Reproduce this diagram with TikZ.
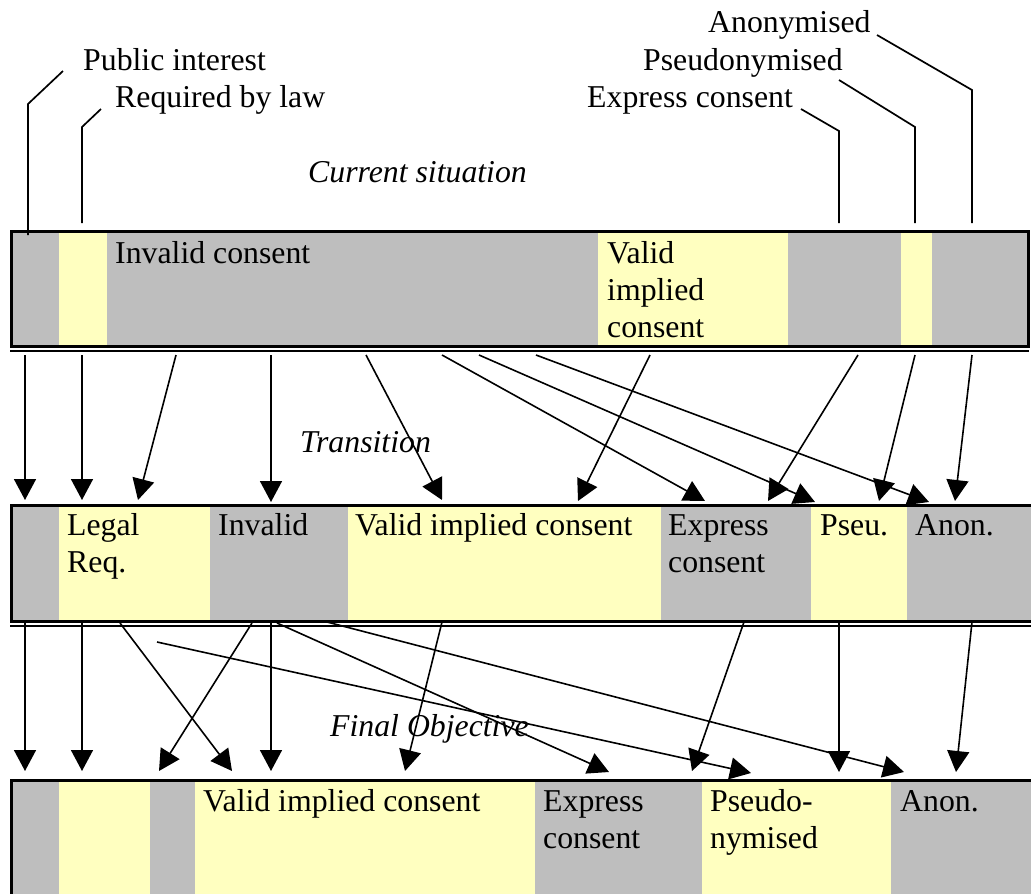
\documentclass[tikz,border=0pt]{standalone}
\usepackage{fontspec}
\setmainfont{Liberation Serif}
\usetikzlibrary{arrows.meta}
\definecolor{segGray}{RGB}{190,190,190}
\definecolor{segYellow}{RGB}{255,255,192}
\begin{document}
\begin{tikzpicture}[x=1bp,y=-1bp,
  font=\fontsize{31.9}{37.6}\selectfont,
  gseg/.style={fill=segGray},
  yseg/.style={fill=segYellow},
  border/.style={line width=3bp},
  rule/.style={line width=2bp},
  lead/.style={line width=1.7bp},
  arr/.style={line width=1.6bp,-{Triangle[length=21bp,width=22bp]}},
  lbl/.style={anchor=base west,inner sep=0pt},
  ttl/.style={anchor=base west,inner sep=0pt,font=\fontsize{31.9}{37.6}\selectfont\itshape}]
\useasboundingbox (0,0) rectangle (1031,894);
\fill[white] (0,0) rectangle (1031,894);

% ---------- Bar 1 : current situation ----------
\fill[gseg] (11,231) rectangle (59,346);
\fill[yseg] (59,231) rectangle (107,346);
\fill[gseg] (107,231) rectangle (598,346);
\fill[yseg] (598,231) rectangle (788,346);
\fill[gseg] (788,231) rectangle (901,346);
\fill[yseg] (901,231) rectangle (932,346);
\fill[gseg] (932,231) rectangle (1028,346);
\draw[border] (11,231) rectangle (1028,346.3);
\draw[rule] (10,350.8) -- (1029,350.8);

% ---------- Bar 2 : transition ----------
\fill[gseg] (11,505) rectangle (59,621);
\fill[yseg] (59,505) rectangle (210,621);
\fill[gseg] (210,505) rectangle (348,621);
\fill[yseg] (348,505) rectangle (661,621);
\fill[gseg] (661,505) rectangle (811,621);
\fill[yseg] (811,505) rectangle (907,621);
\fill[gseg] (907,505) rectangle (1036,621);
\draw[border] (1036,505) -- (11,505) -- (11,621) -- (1036,621);
\draw[rule] (10,625.8) -- (1036,625.8);

% ---------- Bar 3 : final objective ----------
\fill[gseg] (11,780) rectangle (59,900);
\fill[yseg] (59,780) rectangle (150,900);
\fill[gseg] (150,780) rectangle (195,900);
\fill[yseg] (195,780) rectangle (535,900);
\fill[gseg] (535,780) rectangle (702,900);
\fill[yseg] (702,780) rectangle (891,900);
\fill[gseg] (891,780) rectangle (1036,900);
\draw[border] (1036,780) -- (11,780) -- (11,900);

% ---------- top labels with leaders ----------
\node[lbl] (pubint) at (83,70) {Public interest};
\node[lbl] (reqlaw) at (115,107) {Required by law};
\node[lbl] (anonym) at (708,32) {Anonymised};
\node[lbl] (pseudo) at (643,70) {Pseudonymised};
\node[lbl] (expcon) at (587,107) {Express consent};
\coordinate (pubA) at (63,71);  \coordinate (pubB) at (28,104); \coordinate (pubC) at (28,235);
\coordinate (reqA) at (101,109); \coordinate (reqB) at (82,127); \coordinate (reqC) at (82,223);
\coordinate (expA) at (801,109); \coordinate (expB) at (839,131); \coordinate (expC) at (839,223);
\coordinate (psA) at (839,80);  \coordinate (psB) at (915,127); \coordinate (psC) at (915,223);
\coordinate (anA) at (877,35);  \coordinate (anB) at (972,90);  \coordinate (anC) at (972,223);
\draw[lead] (pubA) -- (pubB) -- (pubC);
\draw[lead] (reqA) -- (reqB) -- (reqC);
\draw[lead] (expA) -- (expB) -- (expC);
\draw[lead] (psA) -- (psB) -- (psC);
\draw[lead] (anA) -- (anB) -- (anC);

% ---------- titles ----------
\node[ttl] (tcur) at (308,182) {Current situation};
\node[ttl] (ttra) at (300,452) {Transition};
\node[ttl] (tfin) at (330,736) {Final Objective};

% ---------- segment texts ----------
\node[lbl] (b1inv) at (115,263) {Invalid consent};
\node[lbl] (b1val) at (607,263) {\begin{tabular}[t]{@{}l@{}}Valid\\implied\\consent\end{tabular}};

\node[lbl] (b2leg) at (67,535) {\begin{tabular}[t]{@{}l@{}}Legal\\Req.\end{tabular}};
\node[lbl] (b2inv) at (218,535) {Invalid};
\node[lbl] (b2val) at (355,535) {Valid implied consent};
\node[lbl] (b2exp) at (668,535) {\begin{tabular}[t]{@{}l@{}}Express\\consent\end{tabular}};
\node[lbl] (b2pse) at (820,535) {Pseu.};
\node[lbl] (b2ano) at (915,535) {Anon.};

\node[lbl] (b3val) at (203,811.5) {Valid implied consent};
\node[lbl] (b3exp) at (543,811.5) {\begin{tabular}[t]{@{}l@{}}Express\\consent\end{tabular}};
\node[lbl] (b3pse) at (710,811.5) {\begin{tabular}[t]{@{}l@{}}Pseudo-\\nymised\end{tabular}};
\node[lbl] (b3ano) at (900,811.5) {Anon.};

% ---------- arrows: current -> transition ----------
\foreach \n/\sx/\sy/\ex/\ey in {
  1/25/355/25/500, 2/82/355/82/500, 3/176/355/138/500, 4/271/355/271/502,
  5/366/355/442/500, 6/442/355/705/501, 7/479/355/815/502, 8/536/355/929/502,
  9/650/355/578/501, 10/858/355/768/501, 11/915/355/879/501, 12/972/355/955/501}
{
  \coordinate (ua\n) at (\sx,\sy);
  \coordinate (ub\n) at (\ex,\ey);
  \draw[arr] (ua\n) -- (ub\n);
}

% ---------- arrows: transition -> final ----------
\foreach \n/\sx/\sy/\ex/\ey in {
  1/25/623/25/771, 2/82/623/82/771, 3/120/623/232/771, 4/252/623/159/771,
  5/271/623/271/771, 6/157/642/751/773, 7/277/623/609/772, 8/327/622/904/772,
  9/442/622/405/771, 10/744/622/692/771, 11/839/622/839/772, 12/972/622/956/772}
{
  \coordinate (la\n) at (\sx,\sy);
  \coordinate (lb\n) at (\ex,\ey);
  \draw[arr] (la\n) -- (lb\n);
}
\end{tikzpicture}
\end{document}
